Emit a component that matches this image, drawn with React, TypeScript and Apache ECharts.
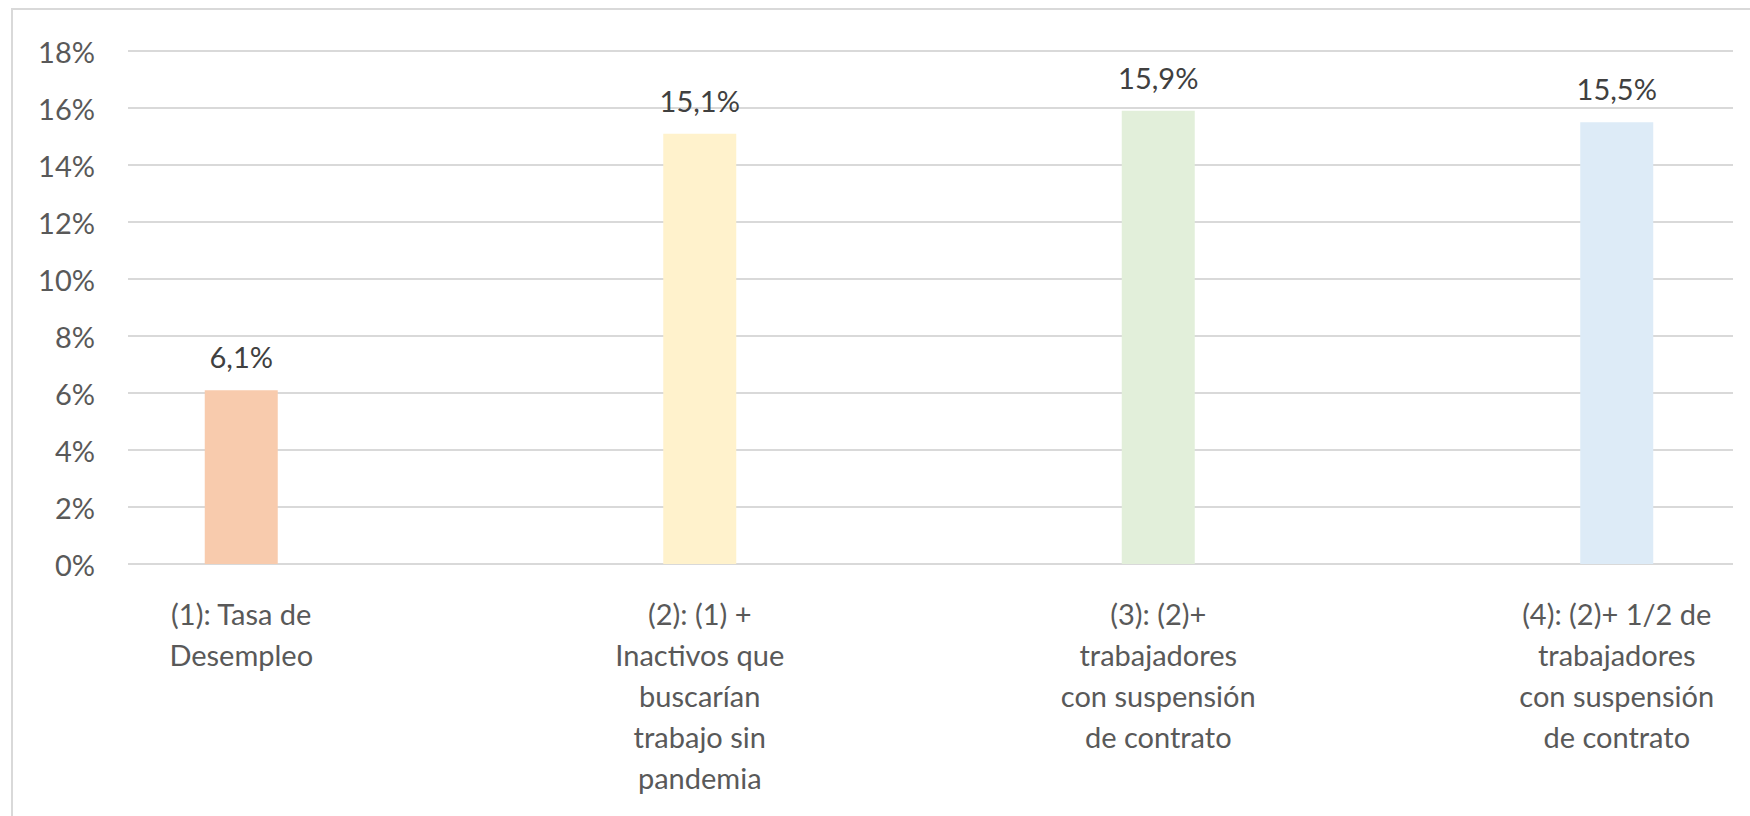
import React, { useEffect, useRef } from "react";
import * as echarts from "echarts";

const categories: string[] = [
  "(1): Tasa de\nDesempleo",
  "(2): (1) +\nInactivos que\nbuscarían\ntrabajo sin\npandemia",
  "(3): (2)+\ntrabajadores\ncon suspensión\nde contrato",
  "(4): (2)+ 1/2 de\ntrabajadores\ncon suspensión\nde contrato",
];
const values: number[] = [6.1, 15.1, 15.9, 15.5];
const barColors: string[] = ["#F8CBAD", "#FFF2CC", "#E2EFDA", "#DDEBF7"];
const yMin = 0;
const yMax = 18;
const yStep = 2;

const FONT = "Lato, 'Open Sans', sans-serif";

export default function App() {
  const ref = useRef<HTMLDivElement>(null);
  useEffect(() => {
    if (!ref.current) return;
    const chart = echarts.init(ref.current, undefined, { renderer: "svg" });
    chart.setOption({
      animation: false,
      backgroundColor: "#ffffff",
      graphic: [
        {
          type: "rect",
          shape: { x: 12, y: 9, width: 1800, height: 900 },
          style: { fill: "none", stroke: "#D9D9D9", lineWidth: 2 },
          silent: true,
          z: -10,
        },
      ],
      grid: [
        { left: 128, top: 51, width: 1605, height: 513, outerBoundsMode: "none", containLabel: false },
        { left: 12, top: 51, width: 1834, height: 513, outerBoundsMode: "none", containLabel: false },
      ],
      xAxis: [
        {
          type: "category",
          gridIndex: 0,
          data: categories,
          show: false,
        },
        {
          type: "category",
          gridIndex: 1,
          data: categories,
          axisLine: { show: false },
          axisTick: { show: false },
          axisLabel: {
            interval: 0,
            margin: 29,
            color: "#595959",
            fontFamily: FONT,
            fontSize: 29,
            lineHeight: 41,
            align: "center",
          },
        },
      ],
      yAxis: [
        {
          type: "value",
          gridIndex: 0,
          min: yMin,
          max: yMax,
          interval: yStep,
          axisLine: { show: false },
          axisTick: { show: false },
          splitLine: { show: true, lineStyle: { color: "#D9D9D9", width: 2 } },
          axisLabel: {
            margin: 33,
            color: "#595959",
            fontFamily: FONT,
            fontSize: 29,
            formatter: "{value}%",
          },
        },
        {
          type: "value",
          gridIndex: 1,
          min: yMin,
          max: yMax,
          interval: yStep,
          show: false,
          splitLine: { show: false },
        },
      ],
      series: [
        {
          type: "bar",
          xAxisIndex: 1,
          yAxisIndex: 1,
          barWidth: 73,
          data: values.map((v, i) => ({ value: v, itemStyle: { color: barColors[i] } })),
          label: {
            show: true,
            position: "top",
            distance: 19,
            color: "#404040",
            fontFamily: FONT,
            fontSize: 29,
            formatter: (p: any) => p.value.toFixed(1).replace(".", ",") + "%",
          },
        },
      ],
    });
    return () => chart.dispose();
  }, []);
  return (
    <div
      ref={ref}
      style={{ position: "absolute", left: 0, top: 0, width: 1750, height: 816, background: "#fff" }}
    />
  );
}
